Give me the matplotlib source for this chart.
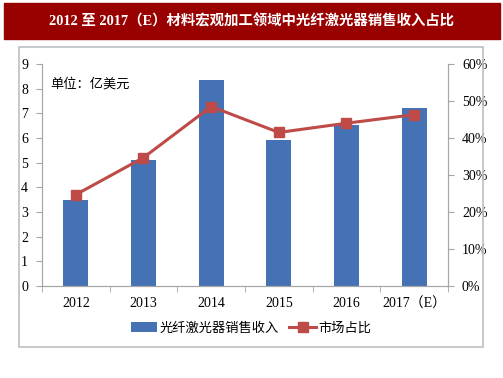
import matplotlib
matplotlib.use("Agg")
import matplotlib.pyplot as plt
from matplotlib.patches import Rectangle
from matplotlib.ticker import FuncFormatter, FixedLocator

plt.rcParams['font.family'] = ['Liberation Serif', 'Noto Sans CJK SC', 'DejaVu Sans']

# data
years = ['2012', '2013', '2014', '2015', '2016', '2017（E）']
revenue = [3.5, 5.12, 8.35, 5.9, 6.53, 7.22]          # 亿美元
share = [0.247, 0.347, 0.485, 0.415, 0.44, 0.463]      # 市场占比

title = '2012 至 2017（E）材料宏观加工领域中光纤激光器销售收入占比'
bar_color = '#4472b4'
line_color = '#be4b48'
grey = '#a6a6a6'

W, H = 503, 378
fig = plt.figure(figsize=(W / 100, H / 100), dpi=100)

# title band and outer frame
fig.patches.append(Rectangle((4 / W, 1 - 39 / H), 496 / W, 36 / H,
                             transform=fig.transFigure, color='#990000', zorder=0))
fig.text(252 / W, 1 - 21 / H, title, color='white', fontsize=10.4, fontweight='bold',
         ha='center', va='center', family=['Liberation Serif', 'Noto Sans CJK SC'])
fig.patches.append(Rectangle((19 / W, 1 - 347 / H), 464 / W, 300 / H,
                             transform=fig.transFigure, fill=False,
                             edgecolor='#bfbfbf', lw=1.2, zorder=0))

ax = fig.add_axes([42 / W, 1 - 286 / H, 406 / W, 222 / H])
x = list(range(len(years)))
bars = ax.bar(x, revenue, width=0.37, color=bar_color, label='光纤激光器销售收入', zorder=2)
ax.set_ylim(0, 9)
ax.set_yticks(range(10))
ax.set_xlim(-0.5, len(years) - 0.5)
ax.set_xticks(x)
ax.set_xticklabels(years)
ax.xaxis.set_minor_locator(FixedLocator([i - 0.5 for i in range(len(years) + 1)]))
ax.tick_params(axis='x', which='major', length=0, pad=8, labelsize=10)
ax.tick_params(axis='x', which='minor', length=4, color=grey, direction='out')
ax.tick_params(axis='y', length=4, color=grey, labelsize=10, pad=6)
ax.spines['top'].set_visible(False)
for s in ['left', 'bottom', 'right']:
    ax.spines[s].set_color(grey)

ax2 = ax.twinx()
line, = ax2.plot(x, share, color=line_color, lw=2.2, marker='s', markersize=7.5,
                 label='市场占比', zorder=3)
ax2.set_ylim(0, 0.6)
ax2.set_yticks([i / 10 for i in range(7)])
ax2.yaxis.set_major_formatter(FuncFormatter(lambda v, p: f'{v * 100:.0f}%'))
ax2.tick_params(axis='y', length=4, color=grey, labelsize=10, pad=6)
ax2.spines['top'].set_visible(False)
for s in ['left', 'bottom', 'right']:
    ax2.spines[s].set_color(grey)

ax.text(0.02, 0.91, '单位：亿美元', transform=ax.transAxes, fontsize=9.5,
        family=['Noto Sans CJK SC'], va='center')

fig.legend([bars, line], ['光纤激光器销售收入', '市场占比'], loc='center',
           bbox_to_anchor=(251 / W, 1 - 328 / H), ncol=2, frameon=False,
           prop={'family': ['Noto Sans CJK SC'], 'size': 9.5},
           handlelength=2.0, handletextpad=0.2, columnspacing=0.8)

fig.savefig('out.png', dpi=100)
